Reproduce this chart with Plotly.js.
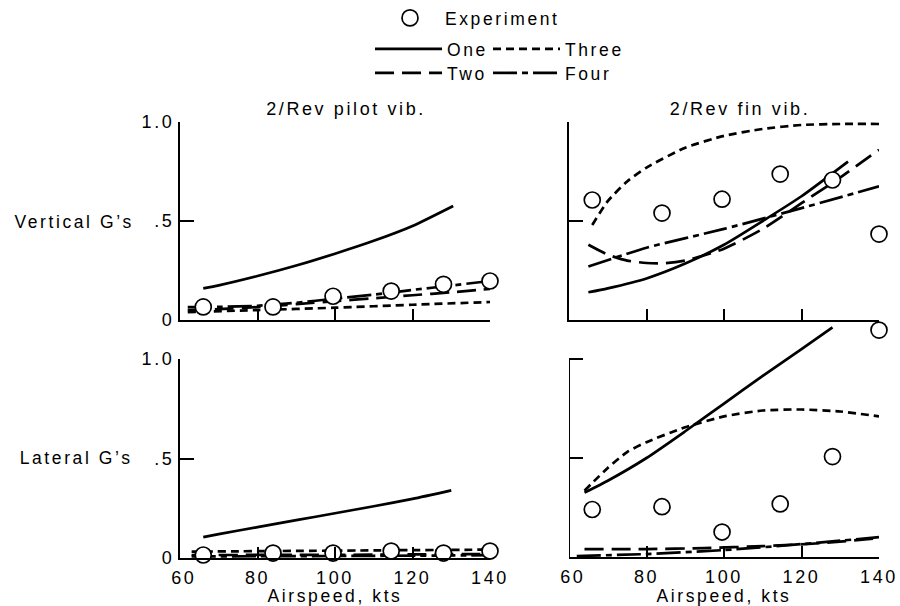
<!DOCTYPE html>
<html>
<head>
<meta charset="utf-8">
<script src="https://cdn.plot.ly/plotly-3.0.1.min.js"></script>
<style>
html, body { margin: 0; padding: 0; background: #fff; }
#chart { width: 900px; height: 606px; }
.main-svg text { letter-spacing: 2.6px; }
g.scrollbox { clip-path: none !important; }
</style>
</head>
<body>
<div id="chart"></div>
<script>
// ---------- DATA ----------
const seriesNames = ['One', 'Two', 'Three', 'Four'];
const xTickVals = [60, 80, 100, 120, 140];
const xTickText = ['\u00a060', '80', '100', '120', '140'];
const yTickVals = [0, 0.5, 1];
const yTickText = ['0', '.5', '1.0'];

// Experiment points (airspeed, kts)
const expSpeed = [66, 84, 99.5, 114.5, 128, 140];
const vertPilotExp = [0.066, 0.066, 0.12, 0.146, 0.18, 0.197];
const vertFinExp   = [0.606, 0.54, 0.61, 0.737, 0.707, 0.434];
const latPilotExp  = [0.015, 0.025, 0.025, 0.035, 0.025, 0.035];
const latFinExp    = [0.24, 0.254, 0.126, 0.268, 0.507, 1.146];

// Vertical G's, 2/Rev pilot vib.
const vpOneX   = [66, 70, 80, 90, 100, 110, 120, 130.5];
const vpOneY   = [0.16, 0.175, 0.222, 0.275, 0.335, 0.40, 0.475, 0.576];
const vpTwoX   = [62, 70, 80, 90, 100, 110, 120, 130, 140];
const vpTwoY   = [0.05, 0.055, 0.065, 0.08, 0.095, 0.11, 0.125, 0.14, 0.157];
const vpThreeX = [62, 80, 100, 120, 140];
const vpThreeY = [0.04, 0.05, 0.062, 0.077, 0.091];
const vpFourX  = [62, 70, 80, 90, 100, 110, 120, 130, 140];
const vpFourY  = [0.065, 0.066, 0.072, 0.087, 0.108, 0.128, 0.152, 0.174, 0.197];

// Vertical G's, 2/Rev fin vib.
const vfOneX   = [65, 70, 80, 90, 100, 110, 120, 132];
const vfOneY   = [0.14, 0.16, 0.21, 0.285, 0.38, 0.5, 0.625, 0.8];
const vfTwoX   = [65, 70, 75, 80, 85, 90, 100, 110, 120, 130, 140];
const vfTwoY   = [0.38, 0.33, 0.30, 0.288, 0.287, 0.30, 0.36, 0.46, 0.59, 0.72, 0.86];
const vfThreeX = [66, 70, 75, 80, 90, 100, 110, 120, 130, 140];
const vfThreeY = [0.48, 0.6, 0.7, 0.77, 0.87, 0.93, 0.965, 0.985, 0.99, 0.99];
const vfFourX  = [65, 80, 100, 120, 140];
const vfFourY  = [0.27, 0.365, 0.46, 0.565, 0.675];

// Lateral G's, 2/Rev pilot vib.
const lpOneX   = [66, 70, 80, 90, 100, 110, 120, 130];
const lpOneY   = [0.105, 0.12, 0.155, 0.19, 0.225, 0.26, 0.297, 0.34];
const lpTwoX   = [63, 100, 140];
const lpTwoY   = [0.015, 0.016, 0.02];
const lpThreeX = [63, 100, 140];
const lpThreeY = [0.032, 0.037, 0.042];
const lpFourX  = [63, 100, 140];
const lpFourY  = [0.008, 0.01, 0.014];

// Lateral G's, 2/Rev fin vib.
const lfOneX   = [64, 70, 80, 90, 100, 110, 120, 128];
const lfOneY   = [0.325, 0.385, 0.5, 0.635, 0.775, 0.915, 1.05, 1.16];
const lfTwoX   = [64, 80, 95, 110, 125, 140];
const lfTwoY   = [0.04, 0.04, 0.045, 0.055, 0.07, 0.095];
const lfThreeX = [64, 70, 75, 80, 90, 100, 110, 120, 130, 140];
const lfThreeY = [0.335, 0.45, 0.53, 0.58, 0.655, 0.71, 0.74, 0.745, 0.735, 0.71];
const lfFourX  = [62, 80, 100, 120, 140];
const lfFourY  = [0.005, 0.015, 0.035, 0.065, 0.1];

// ---------- STYLE ----------
const FONT = 'Liberation Sans, Arial, Helvetica, sans-serif';
const dashes = { One: 'solid', Two: '19px,8px', Three: '8px,5px', Four: '24px,5px,6px,5px' };
const legendOf = { One: 'legend2', Three: 'legend2', Two: 'legend3', Four: 'legend3' };

const panels = [
  { xa: 'x',  ya: 'y',  lines: { One: [vpOneX, vpOneY], Two: [vpTwoX, vpTwoY], Three: [vpThreeX, vpThreeY], Four: [vpFourX, vpFourY] }, exp: vertPilotExp },
  { xa: 'x2', ya: 'y2', lines: { One: [vfOneX, vfOneY], Two: [vfTwoX, vfTwoY], Three: [vfThreeX, vfThreeY], Four: [vfFourX, vfFourY] }, exp: vertFinExp },
  { xa: 'x3', ya: 'y3', lines: { One: [lpOneX, lpOneY], Two: [lpTwoX, lpTwoY], Three: [lpThreeX, lpThreeY], Four: [lpFourX, lpFourY] }, exp: latPilotExp },
  { xa: 'x4', ya: 'y4', lines: { One: [lfOneX, lfOneY], Two: [lfTwoX, lfTwoY], Three: [lfThreeX, lfThreeY], Four: [lfFourX, lfFourY] }, exp: latFinExp }
];

const traces = [];
panels.forEach((p, i) => {
  ['One', 'Three', 'Two', 'Four'].forEach(name => {
    traces.push({
      type: 'scatter', mode: 'lines', name: name,
      x: p.lines[name][0], y: p.lines[name][1],
      xaxis: p.xa, yaxis: p.ya,
      line: { color: '#000', width: 2.7, dash: dashes[name], shape: 'spline', smoothing: 0.6 },
      showlegend: i === 0, legend: legendOf[name], hoverinfo: 'skip'
    });
  });
});
panels.forEach((p, i) => {
  traces.push({
    type: 'scatter', mode: 'markers', name: 'Experiment',
    x: expSpeed, y: p.exp, xaxis: p.xa, yaxis: p.ya,
    marker: { symbol: 'circle', size: 16, color: '#fff', line: { color: '#000', width: 1.7 } },
    cliponaxis: false, showlegend: i === 0, legend: 'legend', hoverinfo: 'skip'
  });
});

const W = 900, H = 606;
const px = v => v / W;
const py = v => (H - v) / H;

function xAxis(domain, labels) {
  return {
    domain: domain, range: [60, 140], showline: true, linecolor: '#000', linewidth: 2,
    ticks: 'inside', ticklen: 11, tickwidth: 2, tickcolor: '#000',
    tickvals: xTickVals, ticktext: xTickText, showticklabels: labels, ticklabelstandoff: 2,
    tickfont: { family: FONT, size: 18, color: '#000' },
    showgrid: false, zeroline: false, fixedrange: true,
    title: labels ? { text: 'Airspeed, kts', font: { family: FONT, size: 17.5, color: '#000' }, standoff: 4 } : { text: '' }
  };
}
function yAxis(domain, labels, range, showline) {
  return {
    domain: domain, range: range, showline: showline, linecolor: '#000', linewidth: 2,
    ticks: 'inside', ticklen: 14, tickwidth: 2, tickcolor: '#000',
    tickvals: labels ? yTickVals : [0.5, 1], ticktext: labels ? yTickText : ['.5', '1.0'],
    showticklabels: labels, tickfont: { family: FONT, size: 18, color: '#000' },
    showgrid: false, zeroline: false, fixedrange: true
  };
}

const leftX = [px(180), px(490)];
const rightX = [px(569), px(879)];
const topY = [py(320), py(122)];
const botY = [py(558), py(359)];
const botRightTop = 557 - 1.18 * 198;
const botRY = [py(557), py(botRightTop)];

const legendFont = { family: FONT, size: 17.5, color: '#000' };

const layout = {
  width: W, height: H,
  margin: { l: 0, r: 0, t: 0, b: 0 },
  paper_bgcolor: '#fff', plot_bgcolor: 'rgba(0,0,0,0)',
  font: { family: FONT, size: 17.5, color: '#000' },
  xaxis:  Object.assign(xAxis(leftX, false), { anchor: 'y' }),
  yaxis:  Object.assign(yAxis(topY, true, [0, 1], true), { anchor: 'x' }),
  xaxis2: Object.assign(xAxis(rightX, false), { anchor: 'y2' }),
  yaxis2: Object.assign(yAxis(topY, false, [0, 1], true), { anchor: 'x2' }),
  xaxis3: Object.assign(xAxis(leftX, true), { anchor: 'y3' }),
  yaxis3: Object.assign(yAxis(botY, true, [0, 1], true), { anchor: 'x3' }),
  xaxis4: Object.assign(xAxis(rightX, true), { anchor: 'y4' }),
  yaxis4: Object.assign(yAxis(botRY, false, [0, 1.18], false), { anchor: 'x4' }),
  shapes: [
    { type: 'line', xref: 'x4', yref: 'y4', x0: 60, x1: 60, y0: 0, y1: 1, line: { color: '#000', width: 2 } }
  ],
  legend:  { x: px(375), y: py(0), xanchor: 'left', yanchor: 'top', orientation: 'h', itemwidth: 60, entrywidth: 140, entrywidthmode: 'pixels', bgcolor: 'rgba(0,0,0,0)', font: legendFont },
  legend2: { x: px(370), y: py(31), xanchor: 'left', yanchor: 'top', orientation: 'h', itemwidth: 67, entrywidth: 36, entrywidthmode: 'pixels', bgcolor: 'rgba(0,0,0,0)', font: legendFont },
  legend3: { x: px(370), y: py(55), xanchor: 'left', yanchor: 'top', orientation: 'h', itemwidth: 67, entrywidth: 36, entrywidthmode: 'pixels', bgcolor: 'rgba(0,0,0,0)', font: legendFont },
  annotations: [
    { text: 'Vertical G\u2019s', xref: 'paper', yref: 'paper', x: px(74), y: py(222), xanchor: 'center', yanchor: 'middle', showarrow: false, font: { family: FONT, size: 17.5 } },
    { text: 'Lateral G\u2019s', xref: 'paper', yref: 'paper', x: px(76), y: py(458), xanchor: 'center', yanchor: 'middle', showarrow: false, font: { family: FONT, size: 17.5 } },
    { text: '2/Rev pilot vib.', xref: 'paper', yref: 'paper', x: px(346), y: py(109), xanchor: 'center', yanchor: 'middle', showarrow: false, font: { family: FONT, size: 18 } },
    { text: '2/Rev fin vib.', xref: 'paper', yref: 'paper', x: px(740), y: py(109), xanchor: 'center', yanchor: 'middle', showarrow: false, font: { family: FONT, size: 18 } }
  ]
};

Plotly.newPlot('chart', traces, layout, { displayModeBar: false, staticPlot: true });
</script>
</body>
</html>
